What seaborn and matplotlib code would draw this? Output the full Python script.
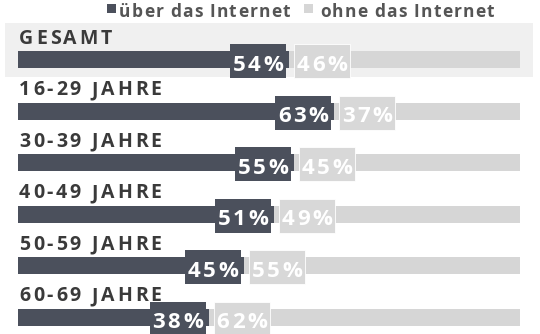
import matplotlib
matplotlib.use("Agg")
import matplotlib.pyplot as plt
import seaborn as sns
import pandas as pd
from matplotlib.patches import Rectangle
from matplotlib.transforms import offset_copy
from matplotlib.font_manager import FontProperties, findfont, get_font

# ---- data ----
categories = ["GESAMT", "16-29 JAHRE", "30-39 JAHRE", "40-49 JAHRE", "50-59 JAHRE", "60-69 JAHRE"]
ueber = [54, 63, 55, 51, 45, 38]
ohne = [46, 37, 45, 49, 55, 62]
series_names = ["über das Internet", "ohne das Internet"]

DARK = "#4b505c"
LIGHT = "#d6d6d6"
LIGHT_BOX = "#d8d8d8"
TXT = "#3a3a3a"
LEG_TXT = "#555555"
HILITE = "#f0f0f0"

sns.set_theme(style="white")
plt.rcParams["font.family"] = ["Open Sans", "DejaVu Sans"]

DPI = 100
fig = plt.figure(figsize=(5.4, 3.34), dpi=DPI)
ax = fig.add_axes([0, 0, 1, 1])

# pixel geometry
X0, SX = 18.0, 5.02     # x pixel of 0%, pixels per %
Y0, SY = 59.5, 51.5     # y pixel of first bar centre, pixels per row
def px2x(px): return (px - X0) / SX
def px2y(py): return (py - Y0) / SY

df = pd.DataFrame({"cat": categories, "ueber": ueber, "ohne": ohne})
df["total"] = df["ueber"] + df["ohne"]
W = 17 / SY
sns.barplot(data=df, x="total", y="cat", orient="h", color=LIGHT, width=W,
            saturation=1, errorbar=None, linewidth=0, ax=ax, zorder=2)
sns.barplot(data=df, x="ueber", y="cat", orient="h", color=DARK, width=W,
            saturation=1, errorbar=None, linewidth=0, ax=ax, zorder=3)

ax.set_xlim(px2x(0), px2x(540))
ax.set_ylim(px2y(334), px2y(0))
ax.axis("off")

# highlight behind GESAMT
ax.add_patch(Rectangle((px2x(5), px2y(23)), (533 - 5) / SX, (77 - 23) / SY,
                       facecolor=HILITE, edgecolor="none", zorder=0))

def adv(ch, fp):
    font = get_font(findfont(fp))
    font.set_size(fp.get_size_in_points(), DPI)
    g = font.load_char(ord(ch))
    return g.linearHoriAdvance / 65536.0

def spaced(x, y, s, fp, spacing, color, ha="left", zorder=5):
    widths = [adv(c, fp) for c in s]
    total = sum(widths) + spacing * (len(s) - 1)
    off = 0.0 if ha == "left" else -total / 2
    for c, w in zip(s, widths):
        tr = offset_copy(ax.transData, fig=fig, x=off, y=0, units="dots")
        ax.text(x, y, c, transform=tr, fontproperties=fp, color=color,
                ha="left", va="baseline", zorder=zorder)
        off += w + spacing

fp_lab = FontProperties(family="Open Sans", weight="bold", size=14)
fp_pct = FontProperties(family="Open Sans", weight="bold", size=16)
fp_leg = FontProperties(family="Open Sans", weight="bold", size=12.5)

BOXW, BOXH = 56, 34
for i, (cat, u, o) in enumerate(zip(categories, ueber, ohne)):
    # category label
    spaced(0.2, i - 16 / SY, cat, fp_lab, 2.8, TXT, zorder=4)
    # value boxes
    end = u
    bx_dark = end - (3 + BOXW) / SX
    bx_light = end + 5 / SX
    ytop = i + (1.5 - BOXH / 2) / SY
    ax.add_patch(Rectangle((bx_dark, ytop), BOXW / SX, BOXH / SY,
                           facecolor=DARK, edgecolor="none", zorder=6))
    ax.add_patch(Rectangle((bx_light, ytop), BOXW / SX, BOXH / SY,
                           facecolor=LIGHT_BOX, edgecolor="white", linewidth=0.6, zorder=6))
    spaced(bx_dark + BOXW / SX / 2, i + 11 / SY, f"{u}%", fp_pct, 2.5, "white", ha="center", zorder=7)
    spaced(bx_light + BOXW / SX / 2, i + 11 / SY, f"{o}%", fp_pct, 2.5, "white", ha="center", zorder=7)

# legend
ax.add_patch(Rectangle((px2x(107), px2y(4)), 9 / SX, 9 / SY, facecolor=DARK, edgecolor="none"))
spaced(px2x(119), px2y(17), series_names[0], fp_leg, 1.2, LEG_TXT)
ax.add_patch(Rectangle((px2x(304), px2y(4)), 9 / SX, 9 / SY, facecolor=LIGHT, edgecolor="none"))
spaced(px2x(320), px2y(17), series_names[1], fp_leg, 1.2, LEG_TXT)

fig.savefig("out.png", dpi=DPI)
